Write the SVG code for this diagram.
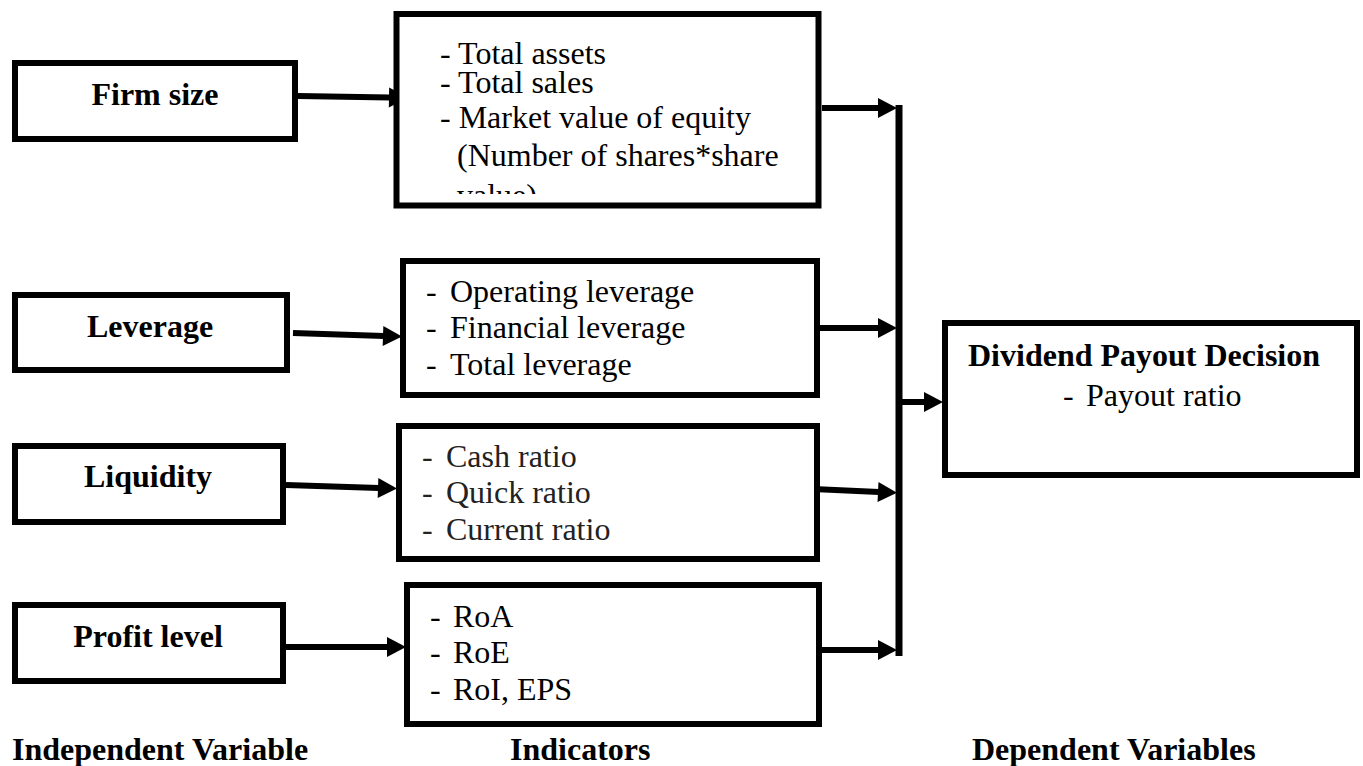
<svg xmlns="http://www.w3.org/2000/svg" width="1363" height="766" viewBox="0 0 1363 766">
<defs>
<style>
.box{fill:#fff;stroke:#000;stroke-width:6}
.lbl{font-family:"Liberation Serif","Times New Roman",serif;font-size:32px;font-weight:bold;fill:#000}
.txt{font-family:"Liberation Serif","Times New Roman",serif;font-size:32px;fill:#000}
.grey{fill:#222}
.con{stroke:#000;stroke-width:6;fill:none}
</style>
<marker id="ah" markerUnits="userSpaceOnUse" markerWidth="20" markerHeight="22" refX="1" refY="10" orient="auto" viewBox="0 0 20 20" overflow="visible">
<path d="M0,0 L19,10 L0,20 Z" fill="#000"/>
</marker>
<clipPath id="clip2"><rect x="400" y="17" width="415" height="177"/></clipPath>
</defs>
<rect width="1363" height="766" fill="#fff"/>

<g id="connectors">
<line class="con" x1="298" y1="96" x2="390" y2="97.5" marker-end="url(#ah)"/>
<line class="con" x1="293" y1="333" x2="384" y2="336" marker-end="url(#ah)"/>
<line class="con" x1="286" y1="485" x2="379" y2="488" marker-end="url(#ah)"/>
<line class="con" x1="286" y1="647" x2="388" y2="647" marker-end="url(#ah)"/>
<line class="con" x1="822" y1="108" x2="879" y2="108" marker-end="url(#ah)"/>
<line class="con" x1="820" y1="328" x2="879" y2="328" marker-end="url(#ah)"/>
<line class="con" x1="813" y1="489" x2="879" y2="492" marker-end="url(#ah)"/>
<line class="con" x1="822" y1="650" x2="879" y2="650" marker-end="url(#ah)"/>
<line x1="899" y1="105" x2="899" y2="656" stroke="#000" stroke-width="7"/>
<line class="con" x1="902" y1="402" x2="925" y2="402" marker-end="url(#ah)"/>
</g>

<g id="firm-size">
<rect class="box" x="15" y="63" width="280" height="76"/>
<text class="lbl" x="155" y="105" text-anchor="middle">Firm size</text>
</g>
<g id="leverage">
<rect class="box" x="15" y="295" width="272" height="75"/>
<text class="lbl" x="150" y="337" text-anchor="middle">Leverage</text>
</g>
<g id="liquidity">
<rect class="box" x="15" y="446" width="268" height="76"/>
<text class="lbl" x="148" y="487" text-anchor="middle">Liquidity</text>
</g>
<g id="profit-level">
<rect class="box" x="15" y="605" width="268" height="76"/>
<text class="lbl" x="148" y="647" text-anchor="middle">Profit level</text>
</g>

<g id="firm-size-indicators">
<rect class="box" x="396.5" y="14" width="422" height="191.5"/>
<g clip-path="url(#clip2)">
<text class="txt" x="440" y="64">- Total assets</text>
<text class="txt" x="440" y="93">- Total sales</text>
<text class="txt" x="440" y="128">- Market value of equity</text>
<text class="txt" x="457" y="166">(Number of shares*share</text>
<text class="txt" x="457" y="206">value)</text>
</g>
</g>
<g id="leverage-indicators">
<rect class="box" x="403" y="261" width="414" height="134"/>
<text class="txt" x="426" y="302">-</text><text class="txt" x="450" y="302">Operating leverage</text>
<text class="txt" x="426" y="338">-</text><text class="txt" x="450" y="338">Financial leverage</text>
<text class="txt" x="426" y="375">-</text><text class="txt" x="450" y="375">Total leverage</text>
</g>
<g id="liquidity-indicators">
<rect class="box" x="399" y="426" width="418" height="133"/>
<text class="txt grey" x="422" y="467">-</text><text class="txt grey" x="446" y="467">Cash ratio</text>
<text class="txt grey" x="422" y="503">-</text><text class="txt grey" x="446" y="503">Quick ratio</text>
<text class="txt grey" x="422" y="540">-</text><text class="txt grey" x="446" y="540">Current ratio</text>
</g>
<g id="profit-indicators">
<rect class="box" x="407" y="585" width="412" height="139"/>
<text class="txt" x="430" y="627">-</text><text class="txt" x="453" y="627">RoA</text>
<text class="txt" x="430" y="663">-</text><text class="txt" x="453" y="663">RoE</text>
<text class="txt" x="430" y="700">-</text><text class="txt" x="453" y="700">RoI, EPS</text>
</g>

<g id="dividend-payout-decision">
<rect class="box" x="945" y="323" width="412" height="152"/>
<text class="lbl" x="968" y="366">Dividend Payout Decision</text>
<text class="txt" x="1063" y="406">-</text><text class="txt" x="1086" y="406">Payout ratio</text>
</g>

<g id="column-labels">
<text class="lbl" x="12" y="760">Independent Variable</text>
<text class="lbl" x="510" y="760">Indicators</text>
<text class="lbl" x="972" y="760">Dependent Variables</text>
</g>
</svg>
